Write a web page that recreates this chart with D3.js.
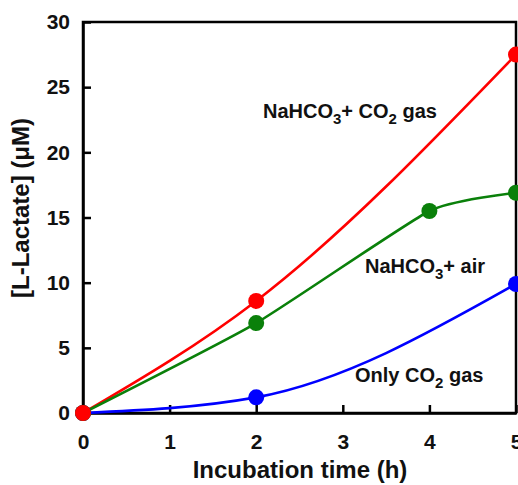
<!DOCTYPE html>
<html>
<head>
<meta charset="utf-8">
<script src="https://cdn.jsdelivr.net/npm/d3@7"></script>
<style>
  html, body { margin: 0; padding: 0; background: #fff; }
  svg { display: block; }
  text { font-family: Arial, "Liberation Sans", sans-serif; font-weight: bold; fill: #111; }
</style>
</head>
<body>
<svg id="chart" width="518" height="485"></svg>
<script>
// L-lactate concentration (µM) against incubation time (h) per condition
const co2Times = [0, 2, 5];
const nahco3Co2 = [0, 8.6, 27.5];
const nahco3AirTimes = [0, 2, 4, 5];
const nahco3Air = [0, 6.9, 15.5, 16.9];
const onlyCo2Times = [0, 2, 5];
const onlyCo2 = [0, 1.2, 9.9];
const xTicks = [0, 1, 2, 3, 4, 5];
const yTicks = [0, 5, 10, 15, 20, 25, 30];

const svg = d3.select("#chart");
const mLeft = 83, mRight = 516, mTop = 22, mBottom = 413;

const x = d3.scaleLinear().domain([0, 5]).range([mLeft, mRight]);
const y = d3.scaleLinear().domain([0, 30]).range([mBottom, mTop]);

const series = [
  { xs: co2Times, ys: nahco3Co2, color: "#ff0000", curve: d3.curveMonotoneX },
  { xs: nahco3AirTimes, ys: nahco3Air, color: "#0a800a", curve: d3.curveCardinal.tension(0.5) },
  { xs: onlyCo2Times, ys: onlyCo2, color: "#0000ff", curve: d3.curveMonotoneX }
];

// frame
svg.append("rect")
  .attr("x", mLeft).attr("y", mTop)
  .attr("width", mRight - mLeft).attr("height", mBottom - mTop)
  .attr("fill", "none").attr("stroke", "#000").attr("stroke-width", 2.5);

// axes with inward ticks
const xAxis = svg.append("g").attr("transform", `translate(0,${mBottom})`)
  .call(d3.axisBottom(x).tickValues(xTicks).tickSizeInner(-8).tickSizeOuter(0).tickPadding(21).tickFormat(d3.format("d")));
const yAxis = svg.append("g").attr("transform", `translate(${mLeft},0)`)
  .call(d3.axisLeft(y).tickValues(yTicks).tickSizeInner(-8).tickSizeOuter(0).tickPadding(13).tickFormat(d3.format("d")));
[xAxis, yAxis].forEach(g => {
  g.select(".domain").attr("stroke", "#000").attr("stroke-width", 2.5);
  g.selectAll(".tick line").attr("stroke", "#000").attr("stroke-width", 2.5);
  g.selectAll(".tick text").style("font-size", "21px").style("font-weight", "bold").attr("fill", "#111");
});

// smoothed lines and markers
series.forEach(s => {
  const line = d3.line().curve(s.curve);
  const pts = s.xs.map((t, i) => [x(t), y(s.ys[i])]);
  svg.append("path").attr("d", line(pts))
    .attr("fill", "none").attr("stroke", s.color).attr("stroke-width", 2.6);
});
series.slice().reverse().forEach(s => {
  svg.selectAll(null).data(s.xs.map((t, i) => [t, s.ys[i]])).enter()
    .append("circle")
    .attr("cx", d => x(d[0])).attr("cy", d => y(d[1]))
    .attr("r", 8).attr("fill", s.color);
});

// series labels with subscripts
function label(px, py, parts) {
  const t = svg.append("text").attr("x", px).attr("y", py).style("font-size", "20px");
  parts.forEach(p => {
    const ts = t.append("tspan").text(p[0]);
    if (p[1]) ts.attr("dy", 6).style("font-size", "15px");
    if (p[2]) ts.attr("dy", -6);
  });
}
label(263, 118, [["NaHCO"], ["3", true], ["+ CO", false, true], ["2", true], [" gas", false, true]]);
label(365, 273, [["NaHCO"], ["3", true], ["+ air", false, true]]);
label(355, 382, [["Only CO"], ["2", true], [" gas", false, true]]);

// axis titles
svg.append("text").attr("x", 300).attr("y", 478).attr("text-anchor", "middle")
  .style("font-size", "24px").text("Incubation time (h)");
svg.append("text").attr("transform", "translate(29,208) rotate(-90)").attr("text-anchor", "middle")
  .style("font-size", "24px").text("[L-Lactate] (μM)");
</script>
</body>
</html>
